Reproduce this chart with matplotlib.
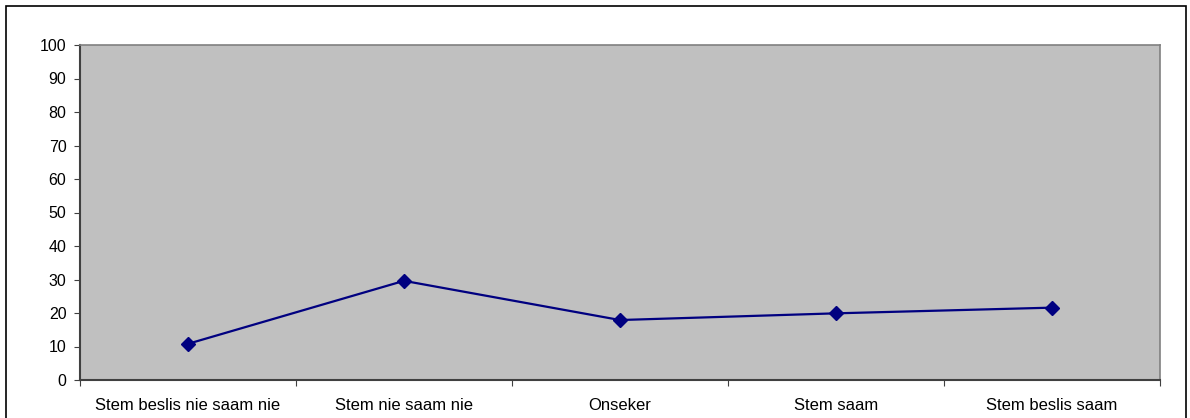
import matplotlib
matplotlib.use("Agg")
import matplotlib.pyplot as plt
from matplotlib.patches import Rectangle
import numpy as np

categories = ["Stem beslis nie saam nie", "Stem nie saam nie", "Onseker", "Stem saam", "Stem beslis saam"]
values = [10.8, 29.6, 17.9, 19.9, 21.6]
yticks = [0, 10, 20, 30, 40, 50, 60, 70, 80, 90, 100]

plt.rcParams['font.family'] = ['Liberation Sans', 'DejaVu Sans']

fig = plt.figure(figsize=(11.9, 4.18), dpi=100)
fig.patch.set_facecolor('white')
fig.patches.append(Rectangle((6/1190, -0.05), 1180/1190, 1 - 6/418 + 0.05,
                             transform=fig.transFigure, fill=False,
                             edgecolor='black', linewidth=1.2))

ax = fig.add_axes([80/1190, 1 - 380/418, 1080/1190, 335/418])
ax.set_facecolor('#C0C0C0')
x = np.arange(len(categories))
ax.plot(x, values, color='#000080', linewidth=1.6, marker='D', markersize=7,
        markerfacecolor='#000080', markeredgecolor='#000080', zorder=3)

ax.set_xlim(-0.5, len(categories) - 0.5)
ax.set_ylim(0, 100)
ax.set_yticks(yticks)
ax.set_yticklabels([str(v) for v in yticks], fontsize=11.5)
ax.set_xticks(np.arange(-0.5, len(categories), 1.0))
ax.set_xticklabels([])
ax.set_xticks(x, minor=True)
ax.set_xticklabels(categories, minor=True, fontsize=12)
ax.tick_params(axis='x', which='minor', length=0, pad=13)
ax.tick_params(axis='x', which='major', length=4, direction='out', color='#404040')
ax.tick_params(axis='y', length=4.3, direction='out', color='#404040', pad=5.5)

for side in ['top', 'right']:
    ax.spines[side].set_color('#808080')
    ax.spines[side].set_linewidth(1.2)
for side in ['left', 'bottom']:
    ax.spines[side].set_color('#404040')
    ax.spines[side].set_linewidth(1.5)

fig.savefig('out.png', dpi=100)
